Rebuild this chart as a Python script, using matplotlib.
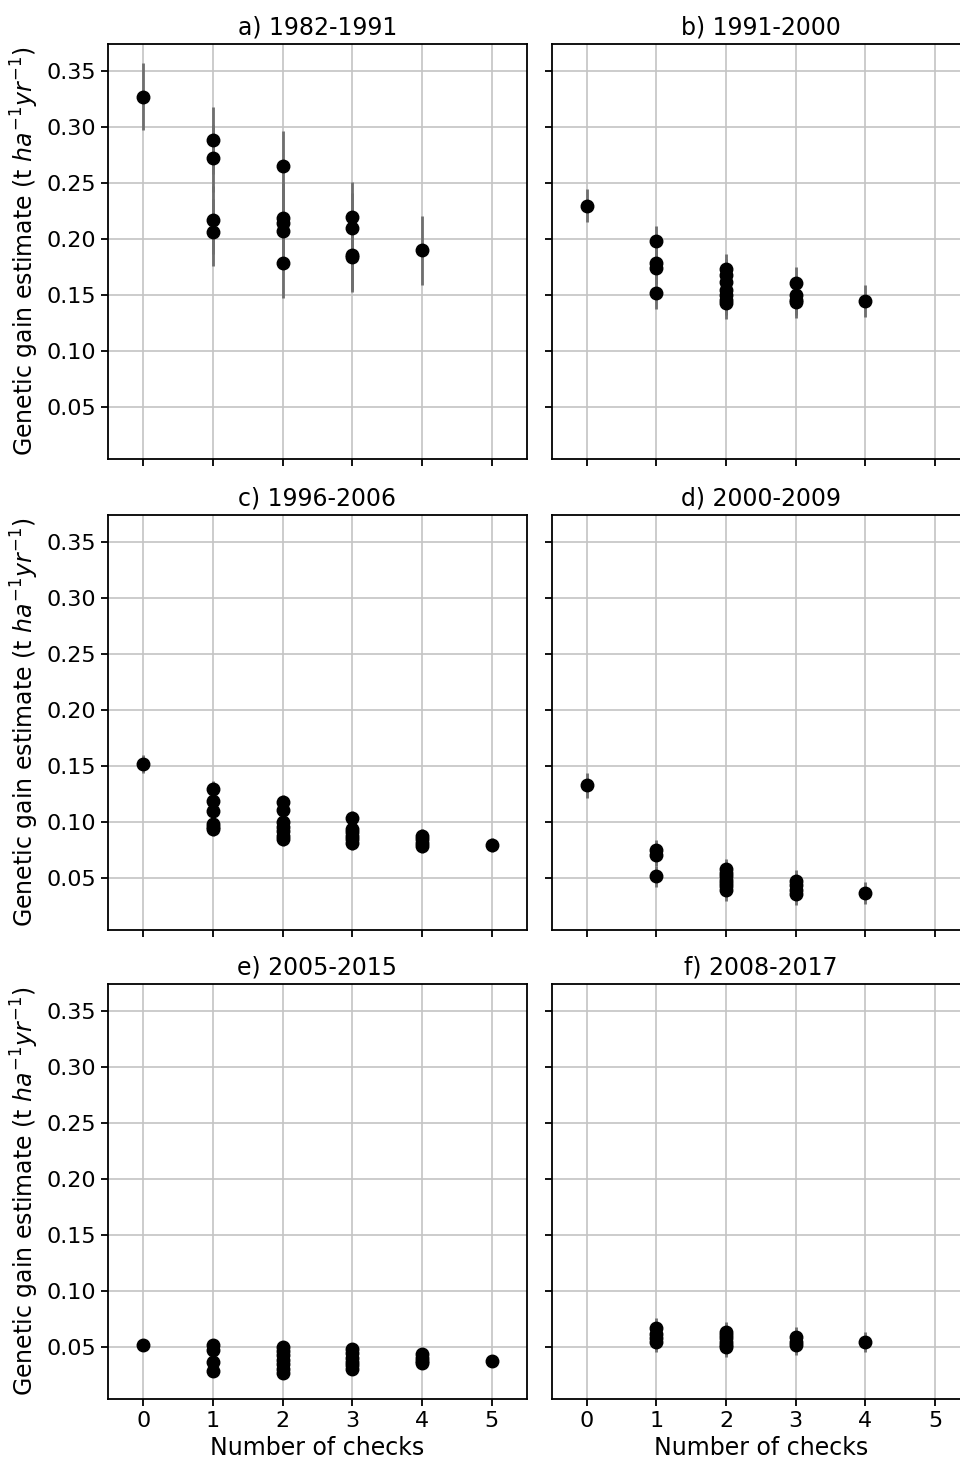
import matplotlib
matplotlib.use('Agg')
import matplotlib.pyplot as plt

# panel titles
titles = ["a) 1982-1991", "b) 1991-2000", "c) 1996-2006",
          "d) 2000-2009", "e) 2005-2015", "f) 2008-2017"]

# a) 1982-1991
checks_a = [0, 1, 1, 1, 1, 2, 2, 2, 2, 2, 3, 3, 3, 3, 4]
gain_a = [0.327, 0.288, 0.272, 0.217, 0.206, 0.265, 0.219, 0.214, 0.207, 0.179,
          0.220, 0.210, 0.186, 0.184, 0.190]
se_a = [0.030, 0.030, 0.031, 0.031, 0.031, 0.031]

# b) 1991-2000
checks_b = [0, 1, 1, 1, 1, 2, 2, 2, 2, 2, 2, 2, 3, 3, 3, 3, 4]
gain_b = [0.230, 0.198, 0.179, 0.174, 0.152, 0.173, 0.168, 0.162, 0.155, 0.150,
          0.146, 0.143, 0.161, 0.150, 0.146, 0.144, 0.145]
se_b = [0.0145, 0.014, 0.014, 0.014, 0.014, 0.014]

# c) 1996-2006
checks_c = [0, 1, 1, 1, 1, 1, 1, 2, 2, 2, 2, 2, 2, 2,
            3, 3, 3, 3, 3, 3, 4, 4, 4, 4, 5]
gain_c = [0.152, 0.130, 0.119, 0.110, 0.099, 0.096, 0.094,
          0.118, 0.111, 0.100, 0.096, 0.092, 0.088, 0.085,
          0.104, 0.094, 0.091, 0.088, 0.085, 0.082,
          0.088, 0.085, 0.082, 0.079, 0.080]
se_c = [0.008, 0.0065, 0.0065, 0.0065, 0.0065, 0.0065]

# d) 2000-2009
checks_d = [0, 1, 1, 1, 2, 2, 2, 2, 2, 2, 2, 3, 3, 3, 3, 4]
gain_d = [0.133, 0.075, 0.071, 0.052, 0.058, 0.055, 0.052, 0.049, 0.046, 0.043,
          0.040, 0.048, 0.044, 0.040, 0.036, 0.037]
se_d = [0.011, 0.0095, 0.0098, 0.0098, 0.0097, 0.0097]

# e) 2005-2015
checks_e = [0, 1, 1, 1, 1, 2, 2, 2, 2, 2, 2, 2,
            3, 3, 3, 3, 3, 3, 4, 4, 4, 4, 5]
gain_e = [0.052, 0.052, 0.048, 0.037, 0.029,
          0.050, 0.047, 0.043, 0.039, 0.035, 0.031, 0.027,
          0.049, 0.045, 0.041, 0.037, 0.034, 0.031,
          0.044, 0.041, 0.038, 0.036, 0.038]
se_e = [0.003, 0.003, 0.003, 0.003, 0.003, 0.003]

# f) 2008-2017
checks_f = [1, 1, 1, 1, 2, 2, 2, 2, 2, 2, 3, 3, 3, 4]
gain_f = [0.067, 0.062, 0.058, 0.055, 0.064, 0.061, 0.058, 0.055, 0.052, 0.0505,
          0.059, 0.055, 0.052, 0.055]
se_f = [0.009, 0.009, 0.0088, 0.0088, 0.0087, 0.0087]

xticks = [0, 1, 2, 3, 4, 5]
yticks = [0.05, 0.10, 0.15, 0.20, 0.25, 0.30, 0.35]

panels = [(checks_a, gain_a, se_a), (checks_b, gain_b, se_b),
          (checks_c, gain_c, se_c), (checks_d, gain_d, se_d),
          (checks_e, gain_e, se_e), (checks_f, gain_f, se_f)]

plt.rcParams['font.family'] = 'DejaVu Sans'

fig = plt.figure(figsize=(9.6, 14.61), dpi=100)

# axes placed by hand; right column runs slightly past the canvas edge
lefts = [0.1128, 0.5747]
bottoms = [0.6858, 0.3634, 0.0424]
w, h = 0.4358, 0.2841

for i, (xs, ys, se) in enumerate(panels):
    row, col = divmod(i, 2)
    ax = fig.add_axes([lefts[col], bottoms[row], w, h])
    errs = [se[x] for x in xs]
    ax.errorbar(xs, ys, yerr=errs, fmt='o', color='black', ms=9,
                ecolor='#6e6e6e', elinewidth=2.0, capsize=0, zorder=3)
    ax.set_xlim(-0.5, 5.5)
    ax.set_ylim(0.004, 0.374)
    ax.set_xticks(xticks)
    ax.set_yticks(yticks)
    ax.grid(True, color='#c4c4c4', lw=1.2)
    ax.set_axisbelow(True)
    for s in ax.spines.values():
        s.set_linewidth(1.3)
    ax.tick_params(length=5, width=1.3, labelsize=16)
    ax.set_title(titles[i], fontsize=17, pad=7)
    if col == 0:
        ax.yaxis.set_major_formatter(matplotlib.ticker.FormatStrFormatter('%.2f'))
        ax.set_ylabel(r'Genetic gain estimate (t $ha^{-1}yr^{-1}$)', fontsize=17)
    else:
        ax.tick_params(labelleft=False)
    if row == 2:
        ax.set_xlabel('Number of checks', fontsize=17)
    else:
        ax.tick_params(labelbottom=False)

plt.savefig('out.png', dpi=100)
plt.close()
